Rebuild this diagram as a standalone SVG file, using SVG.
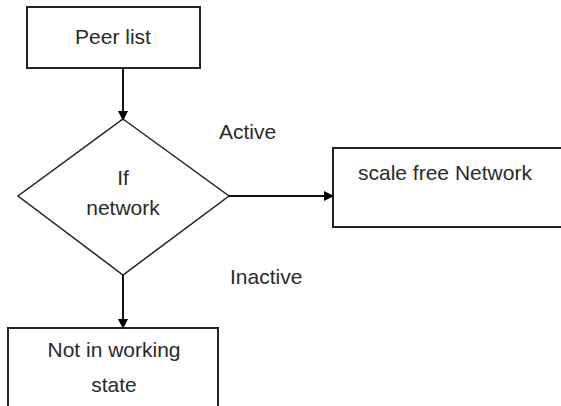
<svg xmlns="http://www.w3.org/2000/svg" width="561" height="406" viewBox="0 0 561 406">
<style>
.box{fill:#fff;stroke:#222;stroke-width:2}
.t{font-family:"Liberation Sans",Arial,sans-serif;font-size:21px;fill:#2a2a2a;text-anchor:middle}
.l{font-family:"Liberation Sans",Arial,sans-serif;font-size:21px;fill:#2a2a2a}
.c{stroke:#111;stroke-width:2;fill:none}
</style>
<defs>
<marker id="ah" markerWidth="10" markerHeight="10" refX="9" refY="5" orient="auto" markerUnits="userSpaceOnUse">
<path d="M0,0 L10,5 L0,10 z" fill="#000"/>
</marker>
</defs>
<rect width="561" height="406" fill="#fff"/>
<g id="peer">
<rect class="box" x="27" y="7" width="173" height="61"/>
<text class="t" x="113" y="44">Peer list</text>
</g>
<g id="decision">
<polygon points="123,119 229,196 123,275 18,196" fill="#fff" stroke="#222" stroke-width="1.5"/>
<text class="t" x="123" y="185">If</text>
<text class="t" x="123" y="215">network</text>
</g>
<g id="scale">
<path d="M561,148 H333 V227 H561" fill="#fff" stroke="#222" stroke-width="2"/>
<text class="l" x="358" y="180">scale free Network</text>
</g>
<g id="notworking">
<path d="M8,406 V328 H218 V406" fill="#fff" stroke="#222" stroke-width="2"/>
<text class="t" x="114" y="357">Not in working</text>
<text class="t" x="114" y="392">state</text>
</g>
<g id="connectors">
<line class="c" x1="123" y1="68" x2="123" y2="120" marker-end="url(#ah)"/>
<line class="c" x1="229" y1="196" x2="333" y2="196" stroke-width="3" marker-end="url(#ah)"/>
<line class="c" x1="123" y1="275" x2="123" y2="328" marker-end="url(#ah)"/>
<text class="l" x="219" y="139">Active</text>
<text class="l" x="230" y="284">Inactive</text>
</g>
</svg>
